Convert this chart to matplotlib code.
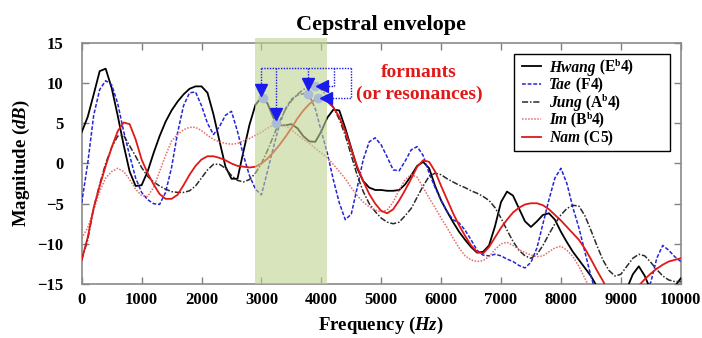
import numpy as np
import matplotlib
matplotlib.use("Agg")
import matplotlib.pyplot as plt
from matplotlib.patches import Rectangle
from matplotlib.transforms import offset_copy

plt.rcParams['font.family'] = ['Liberation Serif', 'DejaVu Serif']
plt.rcParams['font.weight'] = 'bold'
plt.rcParams['mathtext.fontset'] = 'custom'
plt.rcParams['mathtext.rm'] = 'Liberation Serif:bold'
plt.rcParams['mathtext.it'] = 'Liberation Serif:italic:bold'
plt.rcParams['mathtext.bf'] = 'Liberation Serif:bold'

# ---------------- data ----------------
freq = np.arange(0, 10001, 100)

hwang = [3.9, 5.8, 8.6, 11.5, 11.8, 9.4, 6.0, 2.3, -1.0, -2.8,
         -2.7, -1.0, 1.3, 3.4, 5.2, 6.6, 7.7, 8.6, 9.3, 9.6,
         9.6, 8.8, 6.1, 2.8, -0.4, -1.9, -1.9, 1.5, 4.8, 7.3,
         8.2, 7.5, 5.7, 4.75, 4.75, 4.9, 4.4, 3.4, 2.75, 2.7,
         4.0, 5.7, 6.7, 6.6, 4.4, 1.9, -0.6, -2.2, -3.0, -3.3,
         -3.3, -3.4, -3.4, -3.3, -2.6, -1.5, -0.3, 0.2, -0.6, -2.8,
         -4.6, -6.0, -7.3, -8.5, -9.5, -10.4, -11.1, -11.0, -10.2, -7.8,
         -4.8, -3.5, -4.0, -5.6, -7.2, -7.9, -7.2, -6.4, -6.2, -7.0,
         -8.5, -9.8, -11.0, -12.0, -13.0, -14.0, -15.3, -16.5, -17.0, -17.0,
         -16.5, -15.6, -13.8, -12.8, -14.0, -15.8, -16.5, -16.5, -16.0, -15.3,
         -14.3]

tae = [-4.9, 0.0, 6.0, 9.2, 10.3, 9.8, 7.5, 4.0, 1.0, -1.8,
       -3.6, -4.5, -5.0, -5.1, -3.6, -0.5, 3.8, 7.2, 8.8, 8.9,
       7.2, 5.0, 3.6, 4.6, 6.0, 6.5, 4.0, 1.0, -1.5, -3.2,
       -3.9, -1.0, 2.0, 4.8, 6.8, 8.0, 8.5, 8.7, 8.5, 6.8,
       4.0, 1.3, -2.0, -4.9, -7.0, -6.3, -3.0, 0.5, 2.7, 3.2,
       2.3, 0.8, -0.8, -0.9, 0.3, 1.7, 2.1, 1.0, -1.2, -3.0,
       -4.6, -6.0, -7.0, -7.4, -8.3, -9.5, -10.8, -11.4, -11.5, -11.3,
       -11.5, -11.9, -12.2, -12.7, -13.0, -12.3, -10.5, -7.5, -4.5, -1.8,
       -0.6, -2.5, -5.5, -8.0, -11.0, -14.0, -16.5, -17.5, -18.0, -18.0,
       -18.0, -18.0, -17.5, -17.0, -16.0, -14.8, -11.8, -10.2, -10.8, -11.6,
       -12.2]

jung = [-12.0, -9.5, -5.5, -2.6, 0.0, 2.0, 3.4, 3.5, 2.2, 0.9,
        -0.5, -1.6, -2.3, -2.8, -3.2, -3.5, -3.6, -3.6, -3.4, -2.8,
        -1.8, -0.8, -0.1, -0.1, -0.6, -1.5, -2.1, -2.3, -2.0, -1.2,
        0.0, 1.6, 3.4, 5.2, 6.7, 7.8, 8.6, 9.2, 9.5, 9.6,
        9.2, 8.3, 7.0, 5.5, 3.5, 1.0, -1.5, -3.5, -5.0, -6.0,
        -6.8, -7.3, -7.5, -7.3, -6.5, -5.6, -4.2, -2.8, -1.6, -1.2,
        -1.4, -1.9, -2.3, -2.7, -3.0, -3.4, -3.7, -4.1, -4.6, -5.5,
        -6.8, -8.3, -9.7, -10.8, -11.5, -11.8, -11.3, -10.2, -8.8, -7.5,
        -6.4, -5.6, -5.2, -5.3, -6.5, -8.3, -10.2, -12.0, -13.3, -14.0,
        -13.8, -12.8, -11.8, -11.3, -11.5, -12.3, -13.2, -14.0, -14.5, -14.7,
        -14.7]

im = [-9.3, -8.0, -5.8, -3.5, -1.8, -1.0, -0.6, -1.0, -2.0, -3.2,
      -4.0, -4.1, -3.0, -1.0, 1.0, 2.8, 3.6, 4.2, 4.5, 4.5,
      4.1, 3.5, 3.0, 2.7, 2.5, 2.4, 2.5, 2.8, 3.1, 3.5,
      3.9, 4.4, 4.8, 4.9, 4.7, 4.2, 3.6, 3.0, 2.5, 1.9,
      1.3, 0.7, -0.1, -1.0, -1.9, -3.0, -4.0, -4.8, -5.4, -5.8,
      -6.0, -5.8, -4.8, -3.3, -2.0, -1.4, -1.7, -3.0, -4.3, -5.5,
      -6.8, -8.0, -9.3, -10.5, -11.5, -12.0, -12.2, -12.1, -11.6, -10.7,
      -10.0, -9.8, -10.2, -10.7, -11.1, -11.4, -11.6, -11.5, -11.0, -10.5,
      -10.3, -10.8, -11.6, -12.8, -14.3, -15.8, -17.0, -18.0, -18.0, -18.0,
      -18.0, -18.0, -18.0, -18.0, -18.0, -18.0, -18.0, -18.0, -18.0, -18.0,
      -18.0]

nam = [-12.0, -9.2, -5.5, -2.8, -0.3, 2.0, 4.0, 5.1, 4.9, 3.0,
       0.5, -1.2, -2.6, -3.8, -4.4, -4.4, -3.9, -2.7, -1.4, -0.3,
       0.5, 0.9, 0.9, 0.7, 0.4, 0.0, -0.3, -0.4, -0.5, -0.4,
       0.0, 0.6, 1.4, 2.3, 3.3, 4.4, 5.6, 6.6, 7.4, 8.0,
       8.1, 7.7, 7.0, 5.8, 4.0, 1.8, -0.4, -2.2, -3.8, -5.0,
       -5.9, -6.2, -5.7, -4.6, -3.3, -1.9, -0.4, 0.4, 0.2, -1.0,
       -2.8, -4.5, -6.2, -7.7, -9.0, -10.2, -11.0, -11.2, -10.4, -9.2,
       -8.0, -7.0, -6.1, -5.5, -5.1, -4.95, -4.95, -5.2, -5.7, -6.4,
       -7.1, -7.9, -8.7, -9.5, -10.6, -11.9, -13.3, -14.6, -16.0, -17.0,
       -17.5, -17.0, -16.2, -15.2, -14.4, -13.7, -13.1, -12.6, -12.2, -12.0,
       -11.8]

# legend text: singer name (italic) + note name, flat sign as superscript "b"
singers = ['Hwang', 'Tae', 'Jung', 'Im', 'Nam']
note_letters = ['E', 'F', 'A', 'B', 'C']
note_flats = [True, False, True, True, False]
note_octaves = ['4', '4', '4', '4', '5']

# formant peaks (Hz, dB)
formant_freq = [3020, 3250, 3770, 3890, 3950]
formant_db = [8.2, 5.0, 8.7, 9.6, 8.2]

band_lo, band_hi = 2900, 4100

# ---------------- figure ----------------
fig = plt.figure(figsize=(7.02, 3.38), dpi=100)
ax = fig.add_axes([0.1164, 0.1598, 0.8533, 0.7130])

series = [hwang, tae, jung, im, nam]
styles = [dict(color='black', lw=1.3, ls='-'),
          dict(color='#2424d8', lw=1.1, ls=(0, (2.5, 1.2))),
          dict(color='#2a2a2a', lw=1.1, ls=(0, (4, 1.2, 1, 1.2))),
          dict(color='#e46a6a', lw=1.1, ls=(0, (1, 1))),
          dict(color='#e01818', lw=1.3, ls='-')]
for vals, st in zip(series, styles):
    ax.plot(freq, vals, zorder=3, **st)

# shaded formant region, drawn over the curves
band = Rectangle((band_lo, -15), band_hi - band_lo, 30.6, facecolor='#bed28f',
                 alpha=0.6, edgecolor='none', zorder=4, clip_on=False)
ax.add_patch(band)

# formant markers
ax.plot(formant_freq, formant_db, 'o', ms=7, color='#a9bcd4', mec='none', zorder=6)

# arrows (dotted blue bracket)
acol = '#1a1aee'
top = 11.9
dkw = dict(color=acol, lw=1.0, ls=(0, (1, 1)), zorder=7, clip_on=False)
ax.plot([2990, 4500], [top, top], **dkw)
ax.plot([2990, 2990], [top, 9.5], **dkw)
ax.plot([3250, 3250], [top, 6.5], **dkw)
ax.plot([3780, 3780], [top, 10.3], **dkw)
ax.plot([4220, 4220, 4030], [top, 9.6, 9.6], **dkw)
ax.plot([4500, 4500, 4100], [top, 8.15, 8.15], **dkw)
ax.plot([2990, 3250, 3780], [9.2, 6.2, 9.95], 'v', ms=8, color=acol, zorder=8)
ax.plot([4005, 4075], [9.6, 8.15], '<', ms=8, color=acol, zorder=8)

ax.text(5630, 11.3, 'formants', color='#e01818', fontsize=14, fontweight='bold',
        ha='center', va='center', zorder=8)
ax.text(5630, 8.6, '(or resonances)', color='#e01818', fontsize=14, fontweight='bold',
        ha='center', va='center', zorder=8)

ax.set_xlim(0, 10000)
ax.set_ylim(-15, 15)
ax.set_xticks(np.arange(0, 10001, 1000))
ax.set_yticks(np.arange(-15, 16, 5))
ax.tick_params(direction='in', length=5, width=1, color='#808080', top=True, right=True,
               labelsize=12)
ax.tick_params(axis='x', pad=6)
ax.tick_params(axis='y', pad=13)
for lab in ax.get_xticklabels() + ax.get_yticklabels():
    lab.set_fontweight('bold')
for s in ax.spines.values():
    s.set_color('#8a8a8a')
    s.set_linewidth(1.2)

ax.set_xlabel(r'Frequency ($\mathit{Hz}$)', fontsize=13.5, fontweight='bold', labelpad=5)
ax.set_ylabel(r'Magnitude ($\mathit{dB}$)', fontsize=13.5, fontweight='bold', labelpad=4)
ax.set_title('Cepstral envelope', fontsize=16, fontweight='bold', pad=9)

# ---------------- custom legend ----------------
frame = Rectangle((0.7217, 0.552), 0.982 - 0.7217, 0.954 - 0.552, transform=ax.transAxes,
                  facecolor='white', edgecolor='black', lw=1.0, zorder=9)
ax.add_patch(frame)

renderer = fig.canvas.get_renderer()
H = 241.0
row0 = 1 - (66.5 - 43) / H        # first row centre (axes fraction)
drow = 17.6 / H
hx0, hx1 = (522 - 81.7) / 599, (541 - 81.7) / 599
tx0 = (549 - 81.7) / 599
lfs = 11.2
to_axes = ax.transAxes.inverted()

for i in range(len(singers)):
    yc = row0 - i * drow
    ax.plot([hx0, hx1], [yc, yc], transform=ax.transAxes, clip_on=False, zorder=10,
            **styles[i])
    yb = yc - 5.2 / H   # baseline
    pieces = [(singers[i], 'italic', lfs, 0.0),
              (' (' + note_letters[i], 'normal', lfs, 0.0)]
    if note_flats[i]:
        pieces.append(('b', 'normal', lfs * 0.62, 5.5 / H))
    pieces.append((note_octaves[i] + ')', 'normal', lfs, 0.0))
    x = tx0
    for txt, sty, fs, dy in pieces:
        t = ax.text(x, yb + dy, txt, transform=ax.transAxes, fontsize=fs,
                    fontstyle=sty, fontweight='bold', ha='left', va='baseline',
                    zorder=11)
        bb = t.get_window_extent(renderer)
        x = to_axes.transform((bb.x1, bb.y0))[0] + (0.3 / 599 if sty == 'italic' else 0)

fig.savefig('out.png', dpi=100)
